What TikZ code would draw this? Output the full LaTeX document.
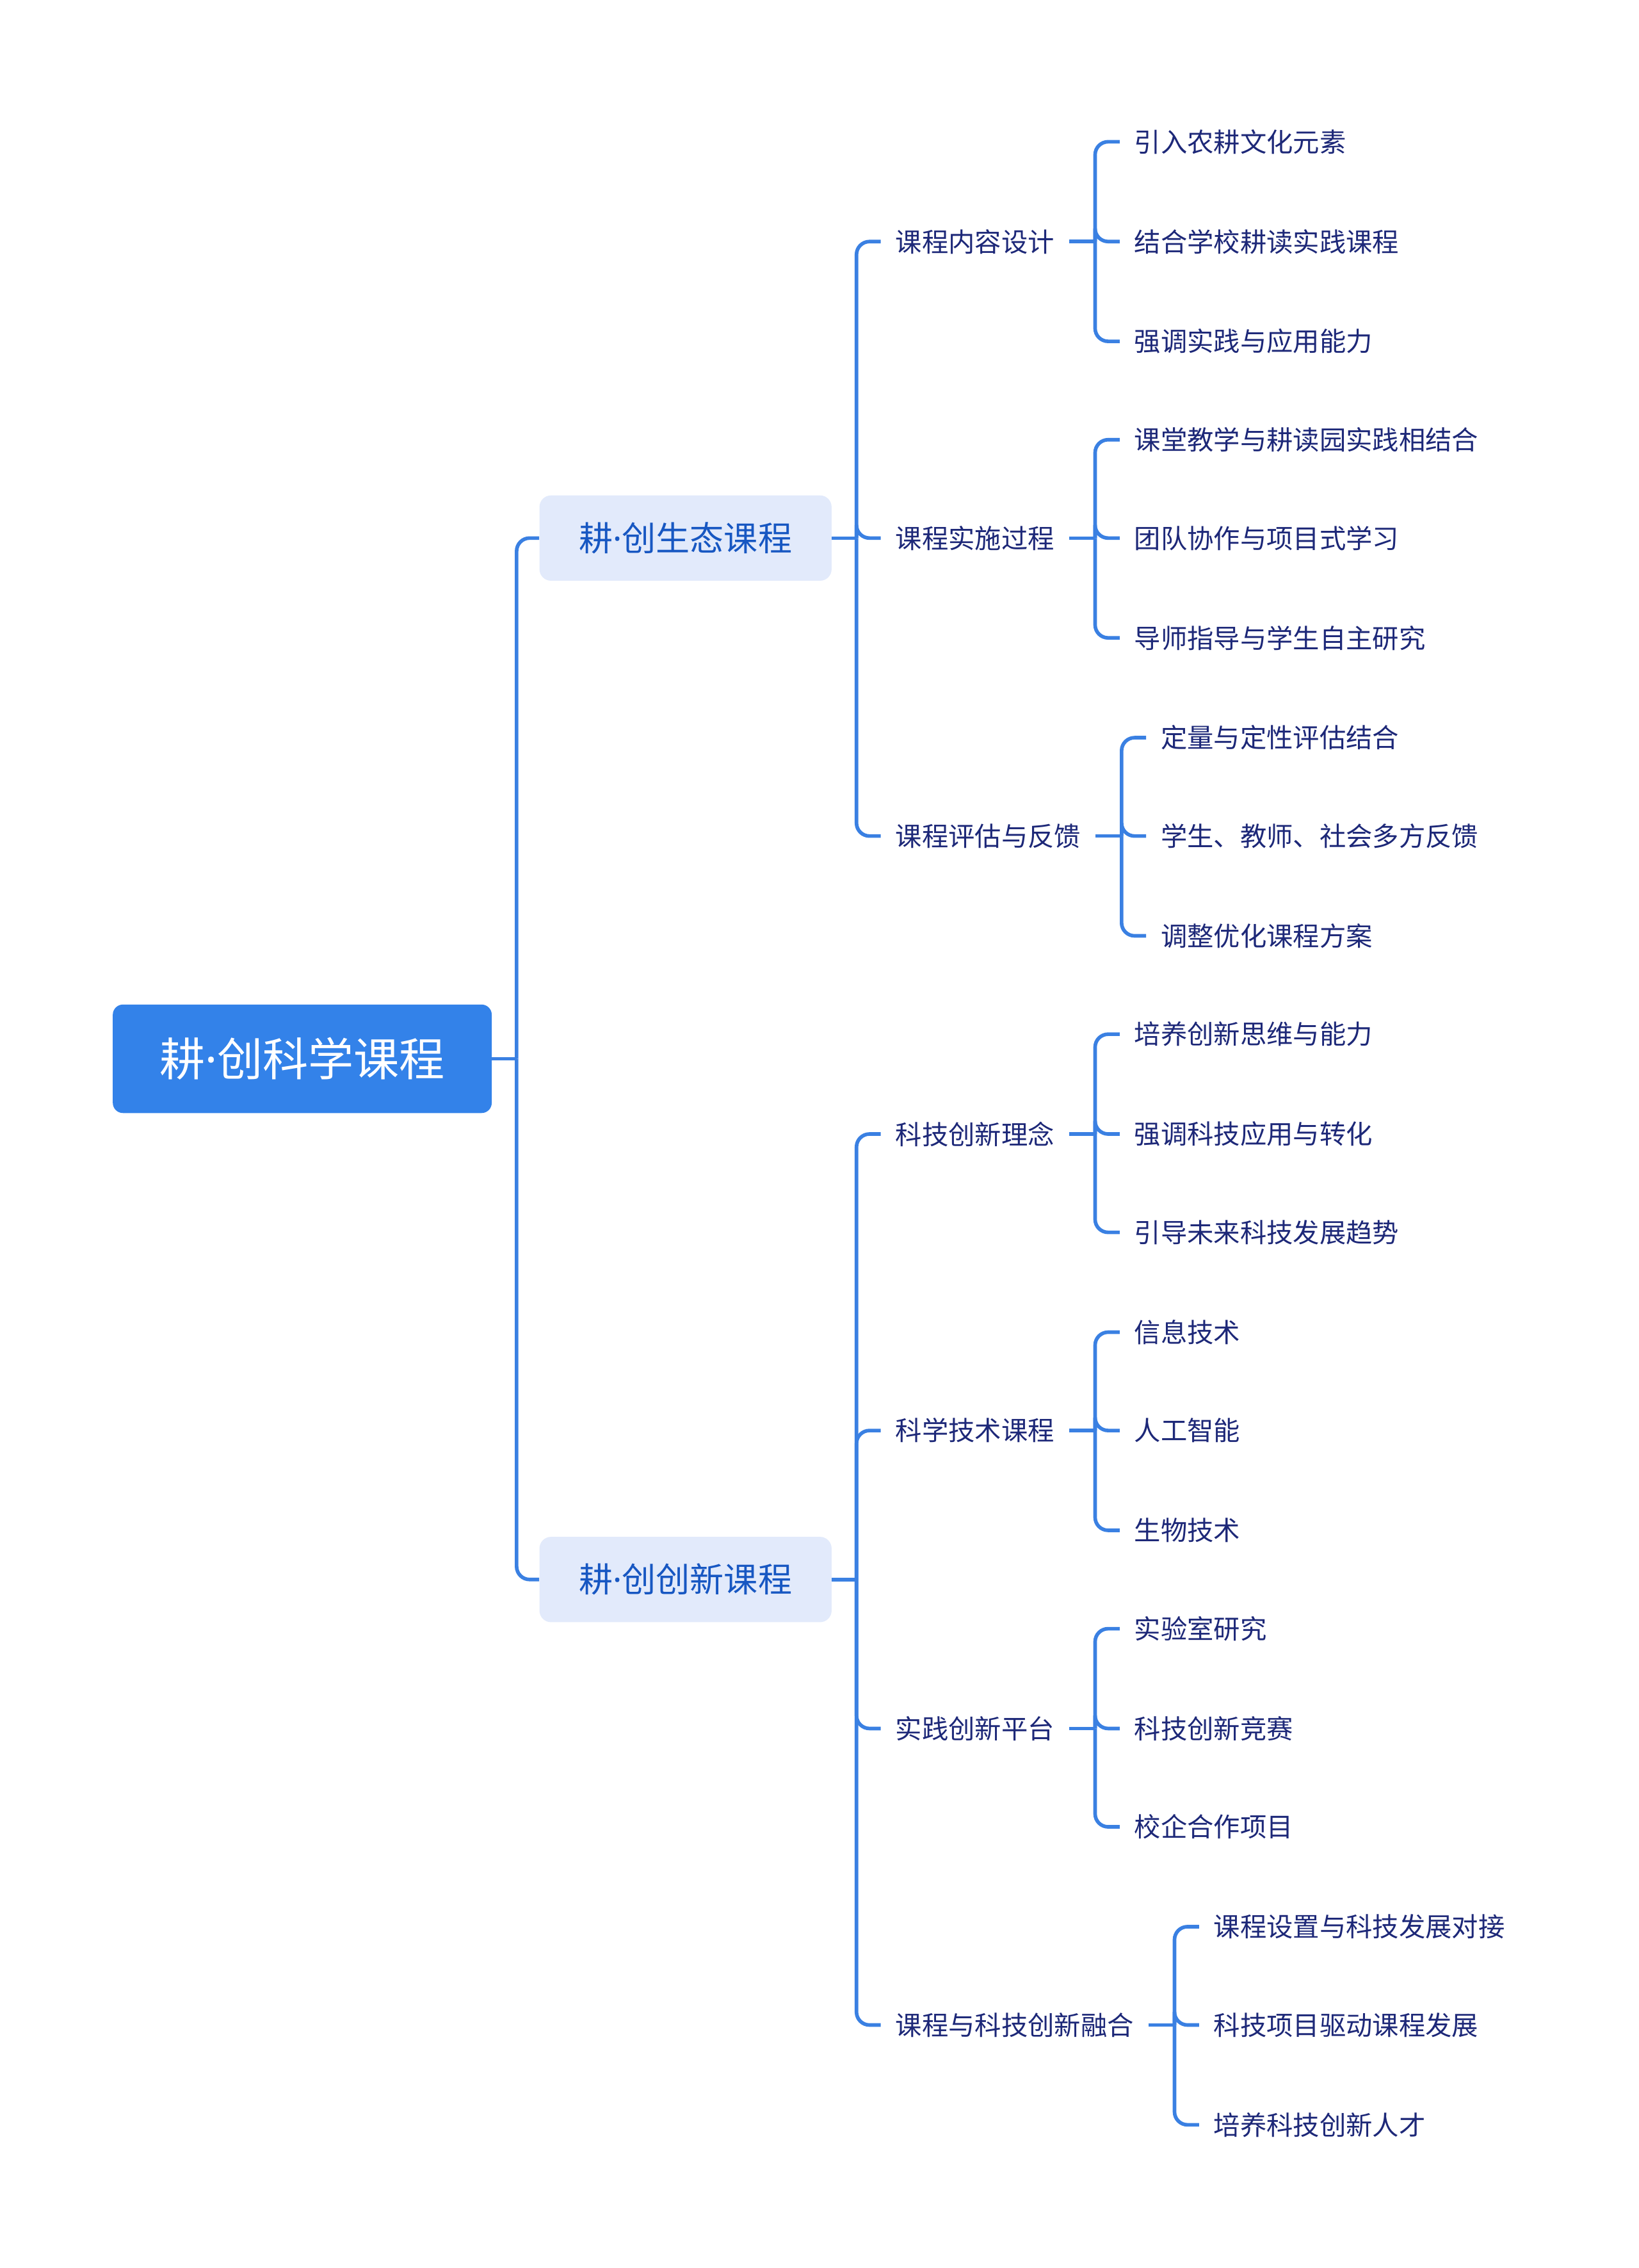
\documentclass[tikz,border=0pt]{standalone}
\usepackage{fontspec}
\setmainfont{Noto Sans CJK SC}
\newfontfamily\latinfont{Noto Sans}
\usetikzlibrary{positioning,calc}
\definecolor{mmline}{HTML}{3A80E2}
\definecolor{mmroot}{HTML}{3382E9}
\definecolor{mmsub}{HTML}{E2EAFB}
\definecolor{mmsubtext}{HTML}{1757C2}
\definecolor{mmink}{HTML}{1D2878}
\newcommand{\gdot}{{\latinfont ·}}
\tikzset{
  rootbox/.style={fill=mmroot, text=white, rounded corners=7pt, minimum width=262pt,
    minimum height=75pt, font=\fontsize{31.5pt}{36pt}\selectfont},
  subbox/.style={fill=mmsub, text=mmsubtext, rounded corners=8pt, minimum width=202pt,
    minimum height=59pt, font=\fontsize{23.5pt}{28pt}\selectfont},
  topic/.style={anchor=west, text=mmink, inner xsep=10pt, inner ysep=2pt},
  leaf/.style={text=mmink, inner xsep=10pt, inner ysep=2pt},
  link/.style={draw=mmline, line width=2.5pt, rounded corners=9pt}
}
\begin{document}
\begin{tikzpicture}[x=1pt, y=-1pt, font=\fontsize{18.3pt}{22pt}\selectfont]
\useasboundingbox (0,0) rectangle (1133,1568);
% root and the two courses
\node[rootbox] (root) at (209,732) {耕\gdot 创科学课程};
\node[subbox] (eco) at (474,372) {耕\gdot 创生态课程};
\node[subbox] (inno) at (474,1092) {耕\gdot 创创新课程};
% topics of the first course
\node[topic] (design) at (609,167) {课程内容设计};
\node[topic] (process) at (609,372) {课程实施过程};
\node[topic] (review) at (609,578) {课程评估与反馈};
% topics of the second course
\node[topic] (idea) at (609,784) {科技创新理念};
\node[topic] (tech) at (609,989) {科学技术课程};
\node[topic] (lab) at (609,1195) {实践创新平台};
\node[topic] (merge) at (609,1400) {课程与科技创新融合};
% leaves
\node[leaf, right=35pt of design, yshift=69pt] (design1) {引入农耕文化元素};
\node[leaf, right=35pt of design] (design2) {结合学校耕读实践课程};
\node[leaf, right=35pt of design, yshift=-69pt] (design3) {强调实践与应用能力};
\node[leaf, right=35pt of process, yshift=68pt] (process1) {课堂教学与耕读园实践相结合};
\node[leaf, right=35pt of process] (process2) {团队协作与项目式学习};
\node[leaf, right=35pt of process, yshift=-69pt] (process3) {导师指导与学生自主研究};
\node[leaf, right=35pt of review, yshift=68pt] (review1) {定量与定性评估结合};
\node[leaf, right=35pt of review] (review2) {学生、教师、社会多方反馈};
\node[leaf, right=35pt of review, yshift=-69pt] (review3) {调整优化课程方案};
\node[leaf, right=35pt of idea, yshift=69pt] (idea1) {培养创新思维与能力};
\node[leaf, right=35pt of idea] (idea2) {强调科技应用与转化};
\node[leaf, right=35pt of idea, yshift=-68pt] (idea3) {引导未来科技发展趋势};
\node[leaf, right=35pt of tech, yshift=68pt] (tech1) {信息技术};
\node[leaf, right=35pt of tech] (tech2) {人工智能};
\node[leaf, right=35pt of tech, yshift=-69pt] (tech3) {生物技术};
\node[leaf, right=35pt of lab, yshift=69pt] (lab1) {实验室研究};
\node[leaf, right=35pt of lab] (lab2) {科技创新竞赛};
\node[leaf, right=35pt of lab, yshift=-68pt] (lab3) {校企合作项目};
\node[leaf, right=35pt of merge, yshift=68pt] (merge1) {课程设置与科技发展对接};
\node[leaf, right=35pt of merge] (merge2) {科技项目驱动课程发展};
\node[leaf, right=35pt of merge, yshift=-69pt] (merge3) {培养科技创新人才};
% forks
\coordinate[right=17pt of root] (rootfork);
\coordinate[right=17pt of eco] (ecofork);
\coordinate[right=17pt of inno] (innofork);
\foreach \t in {design,process,review,idea,tech,lab,merge}
  \coordinate[right=18pt of \t] (\t fork);
% connectors
\draw[link] (root) -- (rootfork);
\draw[link] (rootfork) |- (eco);
\draw[link] (rootfork) |- (inno);
\draw[link] (eco) -- (ecofork);
\foreach \t in {design,process,review}
  \draw[link] (ecofork) |- (\t);
\draw[link] (inno) -- (innofork);
\foreach \t in {idea,tech,lab,merge}
  \draw[link] (innofork) |- (\t);
\foreach \t in {design,process,review,idea,tech,lab,merge} {
  \draw[link] (\t) -- (\t fork);
  \foreach \i in {1,2,3}
    \draw[link] (\t fork) |- (\t\i);
}
\end{tikzpicture}
\end{document}
